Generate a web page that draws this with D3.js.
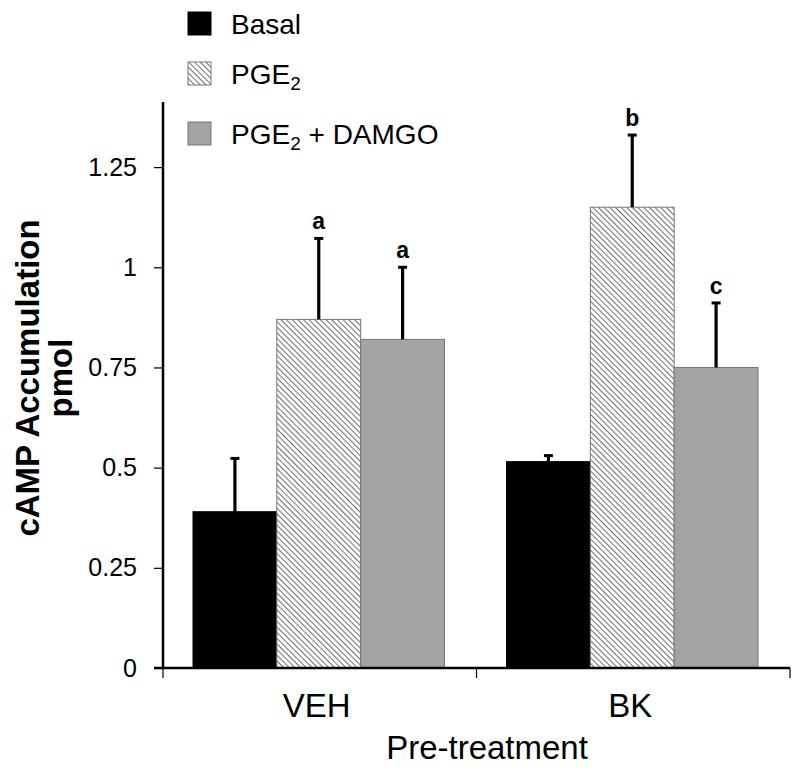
<!DOCTYPE html>
<html>
<head>
<meta charset="utf-8">
<script src="https://cdn.jsdelivr.net/npm/d3@7"></script>
<style>
body { margin: 0; background: #fff; }
text { font-family: "Liberation Sans", Arial, sans-serif; fill: #000; }
</style>
</head>
<body>
<div id="chart"></div>
<script>
// data
var groups = ["VEH", "BK"];
var series = ["Basal", "PGE2", "PGE2 + DAMGO"];
var basal = [0.39, 0.515];
var pge2 = [0.87, 1.15];
var damgo = [0.82, 0.75];
var basalErr = [0.133, 0.015];
var pge2Err = [0.202, 0.18];
var damgoErr = [0.18, 0.161];
var sigLabels = [["", "a", "a"], ["", "b", "c"]];
var yTicks = [0, 0.25, 0.5, 0.75, 1, 1.25];

var w = 800, h = 773;
var padLeft = 163, padRight = 790, padTop = 107, padBottom = 668;

var svg = d3.select("#chart").append("svg")
	.attr("width", w)
	.attr("height", h);

// hatch pattern for PGE2 ( \\\ direction )
var defs = svg.append("defs");
var pat = defs.append("pattern")
	.attr("id", "hatch")
	.attr("patternUnits", "userSpaceOnUse")
	.attr("width", 4)
	.attr("height", 4)
	.attr("patternTransform", "rotate(-45)");
pat.append("rect").attr("width", 4).attr("height", 4).attr("fill", "#fff");
pat.append("line")
	.attr("x1", 0).attr("y1", 0).attr("x2", 0).attr("y2", 4)
	.attr("stroke", "#555").attr("stroke-width", 1.7);

var fills = ["#000", "url(#hatch)", "#a3a3a3"];
var strokes = ["#000", "#777", "#777"];

var x0 = d3.scaleBand().domain(groups).range([padLeft, padRight]).paddingInner(0).paddingOuter(0);
var x1 = d3.scaleBand().domain(series).range([30, x0.bandwidth() - 32]).padding(0);
var y = d3.scaleLinear().domain([0, 1.4]).range([padBottom, padTop]);

var rows = [];
groups.forEach(function(g, i) {
	var vals = [basal[i], pge2[i], damgo[i]];
	var errs = [basalErr[i], pge2Err[i], damgoErr[i]];
	series.forEach(function(s, j) {
		rows.push({g: g, s: s, j: j, v: vals[j], e: errs[j], lab: sigLabels[i][j]});
	});
});

function cx(d) { return x0(d.g) + x1(d.s) + x1.bandwidth() / 2; }

// bars
svg.selectAll("rect.bar")
	.data(rows)
	.enter()
	.append("rect")
	.attr("class", "bar")
	.attr("x", function(d) { return x0(d.g) + x1(d.s); })
	.attr("y", function(d) { return y(d.v); })
	.attr("width", x1.bandwidth())
	.attr("height", function(d) { return y(0) - y(d.v); })
	.attr("fill", function(d) { return fills[d.j]; })
	.attr("stroke", function(d) { return strokes[d.j]; })
	.attr("stroke-width", 1);

// error bars (upper only) + significance letters
var eb = svg.selectAll("g.err").data(rows).enter().append("g").attr("class", "err");
eb.append("line")
	.attr("x1", cx).attr("x2", cx)
	.attr("y1", function(d) { return y(d.v); })
	.attr("y2", function(d) { return y(d.v + d.e); })
	.attr("stroke", "#000").attr("stroke-width", 3.2);
eb.append("line")
	.attr("x1", function(d) { return cx(d) - 4.5; })
	.attr("x2", function(d) { return cx(d) + 4.5; })
	.attr("y1", function(d) { return y(d.v + d.e); })
	.attr("y2", function(d) { return y(d.v + d.e); })
	.attr("stroke", "#000").attr("stroke-width", 3);
eb.append("text")
	.attr("x", cx)
	.attr("y", function(d) { return y(d.v + d.e) - 9; })
	.attr("text-anchor", "middle")
	.attr("font-size", 23)
	.attr("font-weight", "bold")
	.text(function(d) { return d.lab; });

// y axis
var yAxis = d3.axisLeft(y).tickValues(yTicks).tickSize(9).tickPadding(17).tickFormat(function(d) { return String(d); });
var gy = svg.append("g").attr("transform", "translate(" + padLeft + ",0)").call(yAxis);
gy.select(".domain").attr("stroke-width", 2.5).attr("d", "M0," + (padTop - 5) + "V" + padBottom);
gy.selectAll(".tick line").attr("stroke-width", 1.2);
gy.selectAll(".tick text").attr("font-size", 25).attr("font-family", "Liberation Sans, Arial, sans-serif").attr("fill", "#000");

// x axis
var xAxis = d3.axisBottom(x0).tickSize(0).tickFormat("");
var gx = svg.append("g").attr("transform", "translate(0," + padBottom + ")").call(xAxis);
gx.select(".domain").attr("stroke-width", 2.5).attr("d", "M" + (padLeft - 9) + ",0H" + padRight);
gx.selectAll(".tick").remove();
var xEdges = [padLeft].concat(groups.map(function(g) { return x0(g) + x0.bandwidth(); }));
gx.selectAll("line.edge").data(xEdges).enter().append("line")
	.attr("x1", function(d) { return d; }).attr("x2", function(d) { return d; })
	.attr("y1", 0).attr("y2", 10).attr("stroke", "#000").attr("stroke-width", 1.2);
gx.selectAll("text.cat").data(groups).enter().append("text")
	.attr("x", function(d) { return x0(d) + x0.bandwidth() / 2 - 3; })
	.attr("y", 49)
	.attr("text-anchor", "middle")
	.attr("font-size", 33)
	.text(function(d) { return d; });

svg.append("text")
	.attr("x", 487).attr("y", 759)
	.attr("text-anchor", "middle")
	.attr("font-size", 33)
	.text("Pre-treatment");

// y label
var yl = svg.append("text")
	.attr("transform", "translate(0,378) rotate(-90)")
	.attr("text-anchor", "middle")
	.attr("font-size", 33)
	.attr("font-weight", "bold");
yl.append("tspan").attr("x", 0).attr("y", 39).text("cAMP Accumulation");
yl.append("tspan").attr("x", 0).attr("y", 72).text("pmol");

// legend
var legY = [12, 62, 122];
var leg = svg.selectAll("g.leg").data(series).enter().append("g").attr("class", "leg")
	.attr("transform", function(d, i) { return "translate(188," + legY[i] + ")"; });
leg.append("rect")
	.attr("width", 23).attr("height", 23)
	.attr("fill", function(d, i) { return fills[i]; })
	.attr("stroke", function(d, i) { return strokes[i]; });
var lt = leg.append("text")
	.attr("x", 43).attr("y", 22)
	.attr("font-size", 28);
lt.each(function(d) {
	var t = d3.select(this);
	if (d.indexOf("PGE2") === 0) {
		t.append("tspan").text("PGE");
		t.append("tspan").attr("font-size", 19).attr("dy", 6).text("2");
		if (d.length > 4) t.append("tspan").attr("dy", -6).text(d.slice(4));
	} else {
		t.text(d);
	}
});
</script>
</body>
</html>
